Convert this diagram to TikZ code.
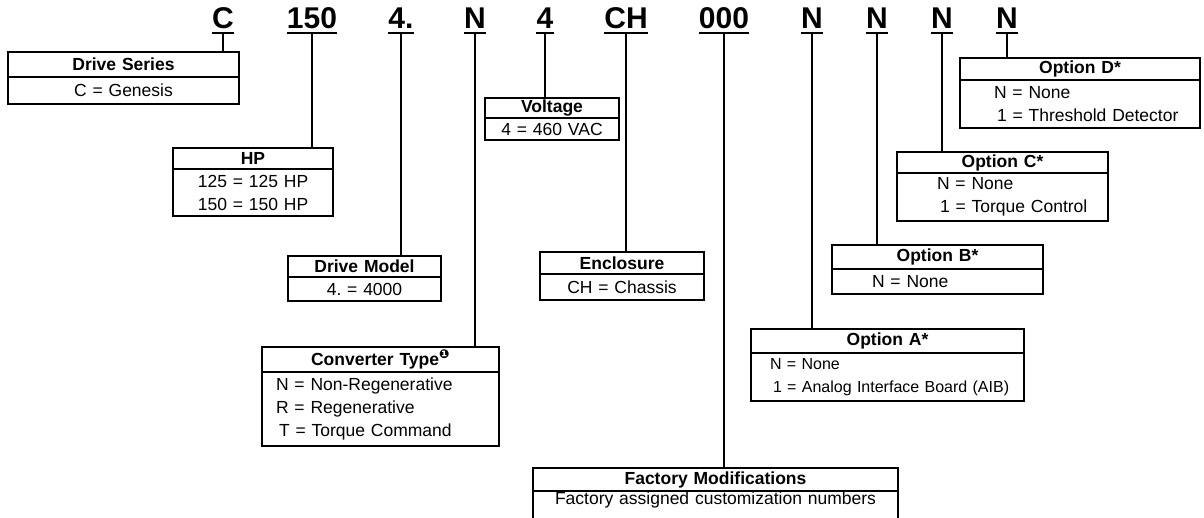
\documentclass[tikz,border=0pt]{standalone}
\usepackage{fontspec}
\setmainfont{Liberation Sans}
\newfontfamily\dingfont{DejaVu Sans}
\usetikzlibrary{positioning}
\frenchspacing

\begin{document}
\begin{tikzpicture}[
  x=1pt, y=-1pt,
  font=\fontsize{17.5}{23}\selectfont,
  code/.style={font=\fontsize{30}{30}\selectfont\bfseries, inner sep=0pt, text depth=3.5pt, anchor=base},
  uline/.style={line width=2pt},
  head/.style={draw, line width=1.5pt, outer sep=0pt, inner xsep=0pt, inner ysep=0pt, anchor=north west, align=center, font=\fontsize{17.5}{23}\selectfont\bfseries},
  body/.style={draw, line width=1.5pt, outer sep=0pt, inner xsep=0pt, inner ysep=0pt, align=center},
  lbody/.style={body, align=left},
  link/.style={line width=1.7pt}
]
\useasboundingbox (0,0) rectangle (1204,518);

\node[code] (cseries) at (223,29) {C};
\node[code] (chp) at (312,29) {150};
\node[code] (cmodel) at (401,29) {4.};
\node[code] (cconv) at (475,29) {N};
\node[code] (cvolt) at (545,29) {4};
\node[code] (cencl) at (626,29) {CH};
\node[code] (cmods) at (724,29) {000};
\node[code] (copta) at (812,29) {N};
\node[code] (coptb) at (877,29) {N};
\node[code] (coptc) at (942,29) {N};
\node[code] (coptd) at (1007,29) {N};

\node[head, text width=231pt, minimum height=25pt] (series) at (8,52) {Drive Series};
\node[body, below=0pt of series, text width=231pt, minimum height=27pt] (seriesval) {C = Genesis};

\node[head, text width=160pt, minimum height=21pt] (hp) at (173,148) {HP};
\node[body, below=0pt of hp, text width=160pt, minimum height=47pt] (hpval) {125 = 125 HP\\150 = 150 HP};

\node[head, text width=153pt, minimum height=21pt] (model) at (288,256) {Drive Model};
\node[body, below=0pt of model, text width=153pt, minimum height=24pt] (modelval) {4. = 4000};

\node[head, text width=237pt, minimum height=25pt] (conv) at (262,347) {Converter Type\textsuperscript{\dingfont ❶}};
\node[lbody, below=0pt of conv, text width=237pt, minimum height=74pt] (convval) {\hspace*{14pt}N = Non-Regenerative\\\hspace*{14pt}R = Regenerative\\\hspace*{17pt}T = Torque Command};

\node[head, text width=134pt, minimum height=20pt] (volt) at (485,98) {Voltage};
\node[body, below=0pt of volt, text width=134pt, minimum height=22pt] (voltval) {4 = 460 VAC};

\node[head, text width=164pt, minimum height=22pt] (encl) at (540,252) {Enclosure};
\node[body, below=0pt of encl, text width=164pt, minimum height=26pt] (enclval) {CH = Chassis};

\node[head, text width=365pt, minimum height=23pt] (mods) at (533,468) {Factory Modifications};
\node[body, below=0pt of mods, text width=365pt, text height=13pt, text depth=16pt] (modsval) {Factory assigned customization numbers};

\node[head, text width=273pt, minimum height=24pt] (opta) at (751,329) {Option A*};
\node[lbody, below=0pt of opta, text width=273pt, minimum height=48pt, font=\fontsize{16}{23}\selectfont] (optaval) {\hspace*{19pt}N = None\\\hspace*{22pt}1 = Analog Interface Board (AIB)};

\node[head, text width=211pt, minimum height=24pt] (optb) at (832,245) {Option B*};
\node[lbody, below=0pt of optb, text width=211pt, minimum height=25pt] (optbval) {\hspace*{40pt}N = None};

\node[head, text width=211pt, minimum height=21pt] (optc) at (897,152) {Option C*};
\node[lbody, below=0pt of optc, text width=211pt, minimum height=48pt] (optcval) {\hspace*{40pt}N = None\\\hspace*{43pt}1 = Torque Control};

\node[head, text width=240pt, minimum height=22pt] (optd) at (960,58) {Option D*};
\node[lbody, below=0pt of optd, text width=240pt, minimum height=48pt] (optdval) {\hspace*{34pt}N = None\\\hspace*{37pt}1 = Threshold Detector};

\draw[uline] (cseries.south west) -- (cseries.south east);
\draw[uline] (chp.south west) -- (chp.south east);
\draw[uline] (cmodel.south west) -- (cmodel.south east);
\draw[uline] (cconv.south west) -- (cconv.south east);
\draw[uline] (cvolt.south west) -- (cvolt.south east);
\draw[uline] (cencl.south west) -- (cencl.south east);
\draw[uline] (cmods.south west) -- (cmods.south east);
\draw[uline] (copta.south west) -- (copta.south east);
\draw[uline] (coptb.south west) -- (coptb.south east);
\draw[uline] (coptc.south west) -- (coptc.south east);
\draw[uline] (coptd.south west) -- (coptd.south east);

\draw[link] (cseries.south) -- (cseries.south |- series.north);
\draw[link] (chp.south) -- (chp.south |- hp.north);
\draw[link] (cmodel.south) -- (cmodel.south |- model.north);
\draw[link] (cconv.south) -- (cconv.south |- conv.north);
\draw[link] (cvolt.south) -- (cvolt.south |- volt.north);
\draw[link] (cencl.south) -- (cencl.south |- encl.north);
\draw[link] (cmods.south) -- (cmods.south |- mods.north);
\draw[link] (copta.south) -- (copta.south |- opta.north);
\draw[link] (coptb.south) -- (coptb.south |- optb.north);
\draw[link] (coptc.south) -- (coptc.south |- optc.north);
\draw[link] (coptd.south) -- (coptd.south |- optd.north);

\end{tikzpicture}
\end{document}
